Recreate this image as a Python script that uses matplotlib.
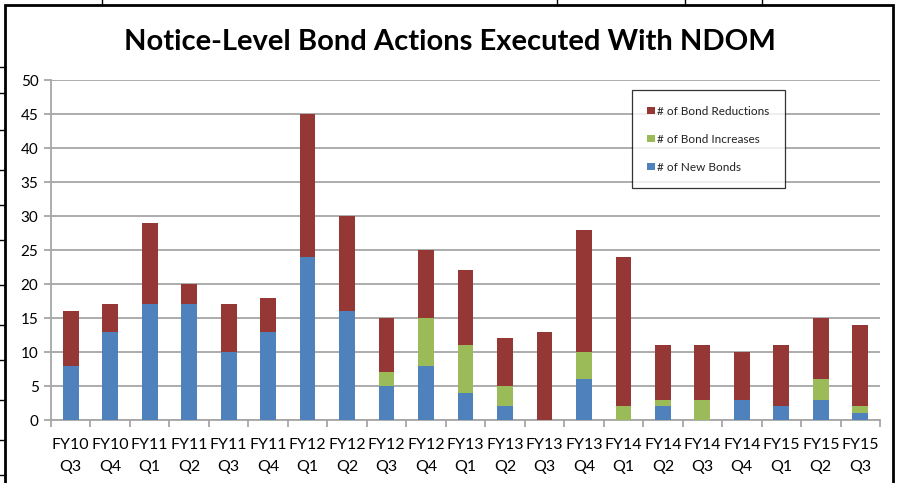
import matplotlib
matplotlib.use("Agg")
import matplotlib.pyplot as plt
import numpy as np
from matplotlib.lines import Line2D
from matplotlib.patches import Rectangle


quarters = ["FY10\nQ3", "FY10\nQ4", "FY11\nQ1", "FY11\nQ2", "FY11\nQ3", "FY11\nQ4",
            "FY12\nQ1", "FY12\nQ2", "FY12\nQ3", "FY12\nQ4", "FY13\nQ1", "FY13\nQ2",
            "FY13\nQ3", "FY13\nQ4", "FY14\nQ1", "FY14\nQ2", "FY14\nQ3", "FY14\nQ4",
            "FY15\nQ1", "FY15\nQ2", "FY15\nQ3"]
new_bonds = [8, 13, 17, 17, 10, 13, 24, 16, 5, 8, 4, 2, 0, 6, 0, 2, 0, 3, 2, 3, 1]
increases = [0, 0, 0, 0, 0, 0, 0, 0, 2, 7, 7, 3, 0, 4, 2, 1, 3, 0, 0, 3, 1]
reductions = [8, 4, 12, 3, 7, 5, 21, 14, 8, 10, 11, 7, 13, 18, 22, 8, 8, 7, 9, 9, 12]

COLOR_NEW = "#4F81BD"
COLOR_INC = "#9BBB59"
COLOR_RED = "#953735"
GRID = "#a6a6a6"

plt.rcParams["font.family"] = ["Lato", "DejaVu Sans"]

fig = plt.figure(figsize=(8.99, 4.83), dpi=100)
ax = fig.add_axes([51 / 899, 1 - 420 / 483, 829 / 899, 340 / 483])

x = np.arange(len(quarters))
w = 0.4
new_arr = np.array(new_bonds)
inc_arr = np.array(increases)
red_arr = np.array(reductions)

ax.bar(x, new_arr, w, color=COLOR_NEW, label="# of New Bonds", zorder=3)
ax.bar(x, inc_arr, w, bottom=new_arr, color=COLOR_INC,
       label="# of Bond Increases", zorder=3)
ax.bar(x, red_arr, w, bottom=new_arr + inc_arr, color=COLOR_RED,
       label="# of Bond Reductions", zorder=3)

ax.set_xlim(-0.5, len(quarters) - 0.5)
ax.set_ylim(0, 50)
ax.set_yticks(range(0, 51, 5))
ax.yaxis.grid(True, color=GRID, linewidth=1.3, zorder=0)
ax.set_axisbelow(True)

ax.set_xticks(x)
ax.set_xticklabels(quarters, fontsize=11.5, linespacing=1.75)
ax.tick_params(axis="x", length=0, pad=13)
ax.set_xticks(np.arange(-0.5, len(quarters), 1), minor=True)
ax.tick_params(axis="x", which="minor", length=5, color=GRID, width=1.3)
ax.tick_params(axis="y", labelsize=11, length=5, color=GRID, width=1.3, pad=4)

for s in ["top", "right"]:
    ax.spines[s].set_visible(False)
for s in ["left", "bottom"]:
    ax.spines[s].set_color(GRID)
    ax.spines[s].set_linewidth(1.3)

handles, labels = ax.get_legend_handles_labels()
leg = ax.legend(handles[::-1], labels[::-1], loc="upper left",
                bbox_to_anchor=(0.701, 0.97), fontsize=8.5, frameon=True,
                fancybox=False, edgecolor="black", handlelength=0.6,
                handleheight=0.6, handletextpad=0.2, labelspacing=1.45,
                borderpad=1.3, borderaxespad=0)
leg.get_frame().set_linewidth(0.9)
for t in leg.get_texts():
    t.set_color("#222222")

fig.text(0.5, 1 - 42 / 483, "Notice-Level Bond Actions Executed With NDOM",
         ha="center", va="center", fontsize=21, fontweight="bold")

# chart border and spreadsheet cell lines
fig.add_artist(Rectangle((5 / 899, -0.05), 888 / 899, 1.05 - 5 / 483,
                         transform=fig.transFigure, fill=False,
                         edgecolor="black", linewidth=2))
for cx in [102, 557, 685, 762]:
    fig.add_artist(Line2D([cx / 899, cx / 899], [1, 1 - 5 / 483],
                          transform=fig.transFigure, color="black", linewidth=1))
for ry in [67, 93, 130, 170, 205, 240, 285, 325, 360, 400, 440, 475]:
    fig.add_artist(Line2D([0, 5 / 899], [1 - ry / 483, 1 - ry / 483],
                          transform=fig.transFigure, color="black", linewidth=1))

fig.savefig("out.png", dpi=100)
